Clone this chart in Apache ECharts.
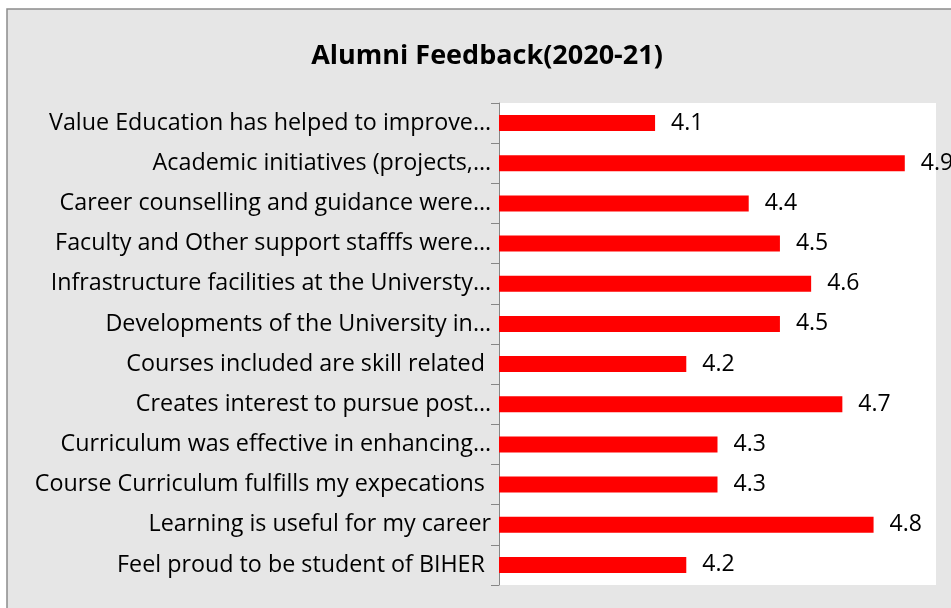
<!DOCTYPE html>
<html>
<head>
<meta charset="utf-8">
<script src="https://cdn.jsdelivr.net/npm/echarts@6/dist/echarts.min.js"></script>
<style>
html,body{margin:0;padding:0;background:#fff;}
#chart{width:951px;height:608px;}
</style>
</head>
<body>
<div id="chart"></div>
<script>
// Categories listed bottom to top
var categories = [
  "Feel proud to be student of BIHER ",
  "Learning is useful for my career",
  "Course Curriculum fulfills my expecations ",
  "Curriculum was effective in enhancing…",
  "Creates interest to pursue post…",
  "Courses included are skill related ",
  "Developments of the University in…",
  "Infrastructure facilities at the Universty…",
  "Faculty and Other support stafffs were…",
  "Career counselling and guidance were…",
  "Academic initiatives (projects,…",
  "Value Education has helped to improve…"
];
var values = [4.2, 4.8, 4.3, 4.3, 4.7, 4.2, 4.5, 4.6, 4.5, 4.4, 4.9, 4.1];
var titleText = "Alumni Feedback(2020-21)";

var chart = echarts.init(document.getElementById('chart'));
var font = 'Open Sans';
chart.setOption({
  backgroundColor: '#ffffff',
  animation: false,
  graphic: [{
    type: 'rect',
    z: -10,
    shape: {x: 7, y: 9, width: 1000, height: 700},
    style: {fill: '#e6e6e6', stroke: '#8c8c8c', lineWidth: 1.5}
  }],
  title: {
    text: titleText,
    left: 482,
    top: 38,
    textAlign: 'center',
    textStyle: {fontFamily: font, fontWeight: 'bold', fontSize: 27, color: '#000'}
  },
  grid: {
    left: 499, right: 15, top: 103, bottom: 23,
    show: true, backgroundColor: '#ffffff', borderWidth: 0
  },
  xAxis: {
    type: 'value', min: 3.6, max: 5.0, show: false,
    splitLine: {show: false}
  },
  yAxis: {
    type: 'category',
    data: categories,
    axisLine: {show: true, lineStyle: {color: '#868686', width: 1}},
    axisTick: {show: true, length: 8, lineStyle: {color: '#868686'}},
    axisLabel: {fontFamily: font, fontSize: 23.3, color: '#000', margin: 8}
  },
  series: [{
    type: 'bar',
    data: values,
    barWidth: 16,
    itemStyle: {color: '#ff0000'},
    label: {
      show: true, position: 'right', distance: 16,
      fontFamily: font, fontSize: 23, color: '#000'
    }
  }]
});
</script>
</body>
</html>
